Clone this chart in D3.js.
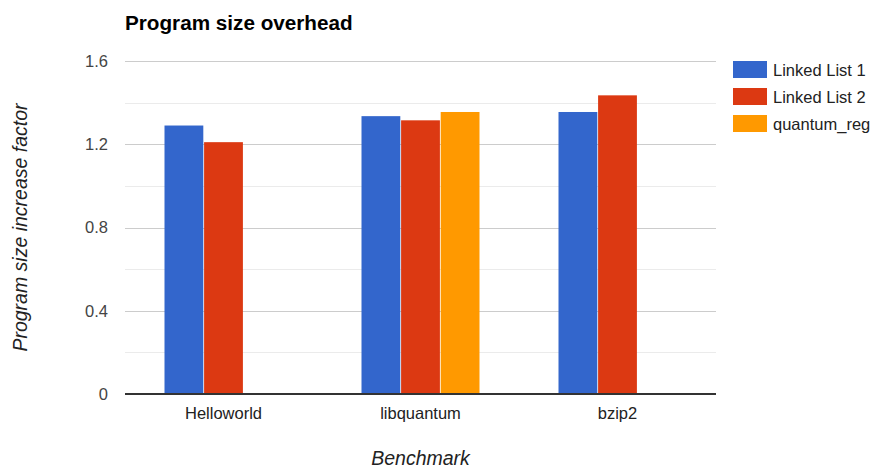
<!DOCTYPE html>
<html>
<head>
<meta charset="utf-8">
<script src="https://cdn.jsdelivr.net/npm/d3@7"></script>
<style>
  body { margin: 0; background: #fff; }
  svg { display: block; font-family: "Liberation Sans", Arial, sans-serif; }
</style>
</head>
<body>
<svg id="chart" width="875" height="469"></svg>
<script>
// Benchmarks and the size increase factor measured for each implementation
const benchmarks = ["Helloworld", "libquantum", "bzip2"];
const seriesNames = ["Linked List 1", "Linked List 2", "quantum_reg"];
const linkedList1 = [1.29, 1.335, 1.355];
const linkedList2 = [1.21, 1.315, 1.435];
const quantumReg = [null, 1.355, null];
const seriesColors = ["#3366cc", "#dc3912", "#ff9900"];
const yTicks = [0, 0.4, 0.8, 1.2, 1.6];
const yGrid = [0.2, 0.4, 0.6, 0.8, 1.0, 1.2, 1.4, 1.6];

const seriesValues = [linkedList1, linkedList2, quantumReg];

const svg = d3.select("#chart");
const plotLeft = 125, plotRight = 716, plotTop = 61, plotBottom = 394;

const x = d3.scaleBand().domain(benchmarks).range([plotLeft, plotRight]);
const groupWidth = 118;
const inner = d3.scaleBand().domain(seriesNames)
  .range([0, groupWidth]).paddingInner(0.02);
const y = d3.scaleLinear().domain([0, 1.6]).range([plotBottom, plotTop]);

// Title
svg.append("text")
  .attr("x", plotLeft).attr("y", 30)
  .attr("font-size", 20.7).attr("font-weight", "bold").attr("fill", "#000")
  .text("Program size overhead");

// Gridlines: labelled every 0.4, lighter lines in between
svg.append("g").selectAll("line").data(yGrid).join("line")
  .attr("x1", plotLeft).attr("x2", plotRight)
  .attr("y1", d => Math.round(y(d)) + 0.5).attr("y2", d => Math.round(y(d)) + 0.5)
  .attr("stroke", d => yTicks.some(t => Math.abs(t - d) < 1e-9) ? "#cccccc" : "#ebebeb")
  .attr("stroke-width", 1);

// Y axis labels
const yAxis = svg.append("g")
  .attr("transform", `translate(${plotLeft - 17},0)`)
  .call(d3.axisLeft(y).tickValues(yTicks).tickSize(0).tickPadding(0)
    .tickFormat(d => d === 0 ? "0" : d3.format(".1f")(d)));
yAxis.select(".domain").remove();
yAxis.selectAll("text").attr("font-size", 16.5).attr("fill", "#444")
  .attr("font-family", "Liberation Sans, Arial, sans-serif");

// Bars
const groups = svg.append("g").selectAll("g").data(benchmarks).join("g")
  .attr("transform", d => `translate(${x(d) + (x.bandwidth() - groupWidth) / 2},0)`);

groups.selectAll("rect")
  .data((b, i) => seriesNames.map((s, j) => ({ s, j, v: seriesValues[j][i] }))
    .filter(d => d.v != null))
  .join("rect")
  .attr("x", d => inner(d.s))
  .attr("width", inner.bandwidth())
  .attr("y", d => y(d.v))
  .attr("height", d => y(0) - y(d.v))
  .attr("fill", d => seriesColors[d.j]);

// Baseline
svg.append("line")
  .attr("x1", plotLeft).attr("x2", plotRight)
  .attr("y1", y(0)).attr("y2", y(0))
  .attr("stroke", "#333").attr("stroke-width", 2);

// X axis labels
const xAxis = svg.append("g")
  .attr("transform", `translate(0,${plotBottom})`)
  .call(d3.axisBottom(x).tickSize(0).tickPadding(13));
xAxis.select(".domain").remove();
xAxis.selectAll("text").attr("font-size", 16.5).attr("fill", "#222")
  .attr("font-family", "Liberation Sans, Arial, sans-serif");

// Axis titles
svg.append("text")
  .attr("x", (plotLeft + plotRight) / 2).attr("y", 465)
  .attr("text-anchor", "middle").attr("font-size", 19.5)
  .attr("font-style", "italic").attr("fill", "#222")
  .text("Benchmark");

svg.append("text")
  .attr("transform", `translate(27,${(plotTop + plotBottom) / 2}) rotate(-90)`)
  .attr("text-anchor", "middle").attr("font-size", 19.5)
  .attr("font-style", "italic").attr("fill", "#222")
  .text("Program size increase factor");

// Legend
const legend = svg.append("g").selectAll("g").data(seriesNames).join("g")
  .attr("transform", (d, i) => `translate(733,${61 + i * 27})`);
legend.append("rect")
  .attr("width", 34).attr("height", 17)
  .attr("fill", (d, i) => seriesColors[i]);
legend.append("text")
  .attr("x", 40).attr("y", 14.5)
  .attr("font-size", 16.5).attr("fill", "#222")
  .text(d => d);
</script>
</body>
</html>
